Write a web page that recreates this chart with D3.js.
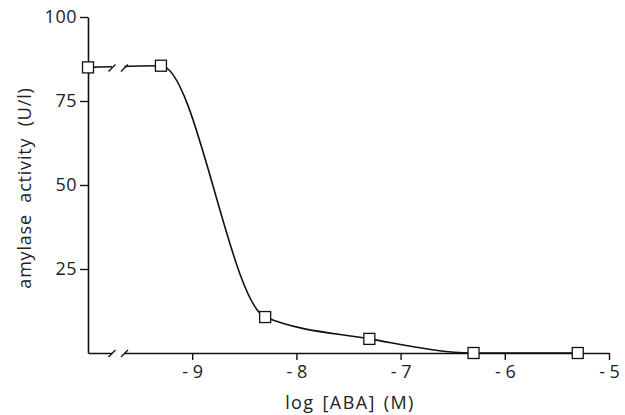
<!DOCTYPE html>
<html>
<head>
<meta charset="utf-8">
<script src="https://cdn.jsdelivr.net/npm/d3@7"></script>
<style>
  body { margin: 0; background: #fff; }
  text { font-family: "Open Sans", "DejaVu Sans", sans-serif; fill: #222; }
</style>
</head>
<body>
<svg id="chart"></svg>
<script>
// log [ABA] values; the first one is the control drawn at the axis break
let logAba = [-10, -9.3, -8.3, -7.3, -6.3, -5.3];
let activity = [85, 85.5, 10.7, 4.2, 0, 0];
let xTicks = [-9, -8, -7, -6, -5];
let yTicks = [25, 50, 75, 100];

let width = 625, height = 415;

let svg = d3.select("#chart")
    .attr("width", width)
    .attr("height", height);

let x = d3.scaleLinear().domain([-10, -5]).range([88, 609]);
let y = d3.scaleLinear().domain([0, 100]).range([353, 17]);

let data = logAba.map(function (d, i) {
    return { x: d, y: activity[i] };
});

// axes
let xAxis = svg.append("g")
    .attr("transform", "translate(0," + y(0) + ")")
    .call(d3.axisBottom(x)
        .tickValues(xTicks)
        .tickSize(7)
        .tickSizeOuter(0)
        .tickFormat(function (d) { return "- " + Math.abs(d); }));

xAxis.select(".domain").attr("stroke", "#111").attr("stroke-width", 1.6);
xAxis.selectAll(".tick line").attr("stroke", "#111").attr("stroke-width", 1.4);
xAxis.selectAll(".tick text")
    .attr("y", 12)
    .attr("font-size", 18)
    .attr("fill", "#222");

let yAxis = svg.append("g")
    .attr("transform", "translate(" + x(-10) + ",0)")
    .call(d3.axisLeft(y)
        .tickValues(yTicks)
        .tickSize(8)
        .tickSizeOuter(0));

yAxis.select(".domain").attr("stroke", "#111").attr("stroke-width", 1.6);
yAxis.selectAll(".tick line").attr("stroke", "#111").attr("stroke-width", 1.4);
yAxis.selectAll(".tick text")
    .attr("x", -11)
    .attr("font-size", 18)
    .attr("letter-spacing", 0.5)
    .attr("fill", "#222");

// curve through all points
let line = d3.line()
    .x(function (d) { return x(d.x); })
    .y(function (d) { return y(d.y); })
    .curve(d3.curveMonotoneX);

svg.append("path")
    .datum(data)
    .attr("d", line)
    .attr("fill", "none")
    .attr("stroke", "#111")
    .attr("stroke-width", 1.6);

// axis breaks (control value sits left of the break)
let breakAt = [x(-9.77), x(-9.65)];
let breakRows = [y(0), y(activity[0])];

breakRows.forEach(function (yy) {
    svg.append("rect")
        .attr("x", breakAt[0])
        .attr("y", yy - 3)
        .attr("width", breakAt[1] - breakAt[0])
        .attr("height", 6)
        .attr("fill", "#fff");
    breakAt.forEach(function (bx) {
        svg.append("line")
            .attr("x1", bx - 3.5).attr("y1", yy + 4)
            .attr("x2", bx + 3.5).attr("y2", yy - 3)
            .attr("stroke", "#111")
            .attr("stroke-width", 1.4);
    });
});

// markers
svg.append("g")
    .selectAll("rect")
    .data(data)
    .enter()
    .append("rect")
    .attr("x", function (d) { return x(d.x) - 5.5; })
    .attr("y", function (d) { return y(d.y) - 5.5; })
    .attr("width", 11)
    .attr("height", 11)
    .attr("fill", "#fff")
    .attr("stroke", "#111")
    .attr("stroke-width", 1.3);

// axis titles
svg.append("text")
    .attr("x", 350)
    .attr("y", 409)
    .attr("text-anchor", "middle")
    .attr("font-size", 18)
    .attr("letter-spacing", 1.4)
    .attr("word-spacing", 2)
    .text("log [ABA] (M)");

svg.append("text")
    .attr("transform", "translate(31,188) rotate(-90)")
    .attr("text-anchor", "middle")
    .attr("font-size", 18)
    .attr("letter-spacing", 0.8)
    .attr("word-spacing", 6)
    .text("amylase activity (U/l)");
</script>
</body>
</html>
